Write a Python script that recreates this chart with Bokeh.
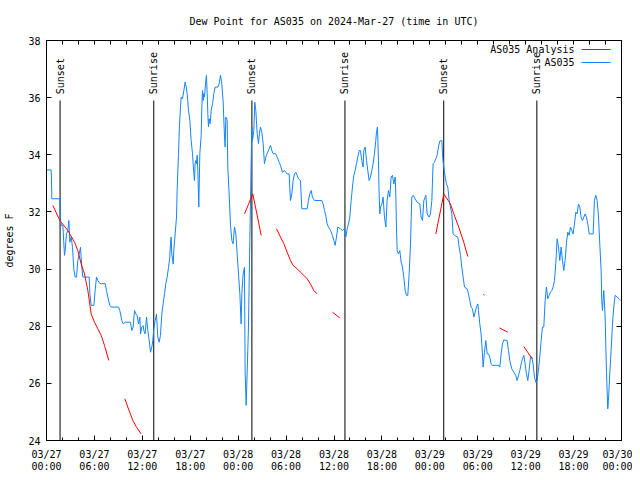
import numpy as np
import pandas as pd
from bokeh.plotting import figure
from bokeh.models import (FixedTicker, DatetimeTickFormatter, LinearAxis, Range1d,
                          Label, BoxAnnotation)
from bokeh.embed import file_html
from bokeh.resources import INLINE
from bokeh.core.properties import value

# ---------------- data ----------------
start = pd.Timestamp("2024-03-27 00:00")

obs_hours = [0.00, 0.58, 0.62, 0.67, 1.67, 1.72, 1.88, 2.05, 2.25, 2.34, 2.50, 2.67, 2.80, 2.92, 3.09,
             3.26, 3.42, 3.59, 3.76, 3.92, 4.09, 4.26, 4.42, 4.55, 5.34, 5.43, 5.59, 5.93, 6.09, 6.26,
             6.43, 6.64, 6.84, 7.35, 7.51, 7.68, 7.93, 8.10, 9.02, 9.18, 9.43, 9.60, 9.85, 10.52, 10.68,
             10.85, 11.02, 11.19, 11.35, 11.52, 11.69, 11.77, 11.94, 12.10, 12.19, 12.35, 12.52, 12.69,
             12.86, 13.02, 13.19, 13.31, 13.44, 13.61, 13.77, 13.94, 14.11, 14.27, 14.44, 14.61, 14.78,
             14.94, 15.11, 15.28, 15.44, 15.53, 15.61, 15.69, 15.86, 15.94, 16.11, 16.28, 16.36, 16.53,
             16.65, 16.78, 16.86, 17.03, 17.20, 17.36, 17.49, 17.61, 17.78, 17.95, 18.11, 18.28, 18.45,
             18.53, 18.61, 18.70, 18.78, 18.86, 18.95, 19.07, 19.20, 19.37, 19.45, 19.53, 19.62, 19.70,
             19.78, 19.95, 20.03, 20.12, 20.20, 20.28, 20.37, 20.49, 20.62, 20.79, 20.95, 21.12, 21.45,
             21.62, 21.79, 21.95, 22.12, 22.29, 22.37, 22.45, 22.62, 22.70, 22.87, 23.04, 23.21, 23.37,
             23.54, 23.71, 23.87, 24.04, 24.21, 24.37, 24.46, 24.62, 24.79, 24.87, 25.00, 25.12, 25.29,
             25.46, 25.63, 25.71, 25.79, 25.96, 26.08, 26.21, 26.38, 26.54, 26.67, 26.79, 26.96, 27.13,
             27.29, 27.46, 27.63, 27.88, 28.05, 28.21, 28.38, 28.67, 28.88, 29.13, 29.30, 29.55, 29.80,
             30.13, 30.38, 30.55, 30.72, 30.88, 31.05, 31.22, 31.39, 31.55, 31.80, 31.97, 32.64, 32.80,
             32.97, 33.14, 33.30, 33.56, 34.47, 34.64, 34.81, 34.97, 35.14, 35.31, 35.56, 35.81, 35.98,
             36.14, 36.31, 36.48, 36.81, 37.06, 37.31, 37.48, 37.65, 37.81, 37.98, 38.15, 38.31, 38.48,
             38.65, 38.81, 38.98, 39.15, 39.31, 39.48, 39.65, 39.73, 39.90, 40.07, 40.23, 40.40, 40.57,
             40.73, 40.90, 41.07, 41.15, 41.23, 41.32, 41.44, 41.57, 41.65, 41.74, 41.82, 41.99, 42.15,
             42.32, 42.49, 42.65, 42.82, 42.99, 43.15, 43.32, 43.49, 43.66, 43.74, 43.82, 43.91, 44.07,
             44.24, 44.41, 44.57, 44.74, 44.91, 45.07, 45.24, 45.41, 45.58, 45.74, 45.91, 46.16, 46.41,
             46.74, 46.91, 47.08, 47.25, 47.50, 47.66, 47.91, 48.08, 48.25, 48.41, 48.58, 48.75, 48.91,
             49.08, 49.25, 49.50, 49.62, 49.75, 49.92, 50.08, 50.25, 50.42, 50.58, 50.75, 50.92, 51.08,
             51.50, 51.67, 51.84, 52.00, 52.17, 52.34, 52.67, 52.84, 53.00, 53.17, 53.34, 53.51, 53.67,
             53.84, 54.01, 54.09, 54.26, 54.42, 54.59, 54.67, 54.84, 55.01, 55.18, 55.34, 55.51, 55.68,
             55.84, 56.59, 56.76, 56.93, 57.09, 57.26, 57.68, 57.85, 58.01, 58.26, 58.51, 58.76, 58.93,
             59.10, 59.27, 59.43, 59.60, 59.77, 59.93, 60.10, 60.27, 60.43, 60.60, 60.77, 60.93, 61.10,
             61.27, 61.44, 61.60, 61.77, 61.94, 62.10, 62.27, 62.44, 62.60, 62.77, 62.94, 63.10, 63.27,
             63.44, 63.61, 63.77, 63.94, 64.11, 64.27, 64.44, 64.61, 64.77, 64.94, 65.11, 65.28, 65.44,
             65.61, 65.78, 65.94, 66.11, 66.28, 66.44, 66.61, 66.78, 66.94, 67.11, 67.28, 67.45, 67.61,
             67.78, 67.95, 68.45, 68.61, 68.78, 68.95, 69.12, 69.28, 69.45, 69.53, 69.62, 69.70, 69.78,
             69.95, 70.03, 70.12, 70.28, 70.37, 70.53, 70.70, 70.87, 71.03, 71.20, 71.45, 71.70, 71.87]

obs_dewpt = [33.47, 33.47, 33.22, 32.46, 32.46, 31.70, 31.52, 31.52, 30.48, 30.65, 31.23, 31.35, 31.70, 30.94, 31.12,
             30.76, 30.00, 29.72, 29.72, 30.30, 30.53, 30.76, 30.06, 29.72, 29.72, 29.14, 28.73, 28.73, 29.25, 29.72,
             29.60, 29.51, 29.49, 29.49, 29.25, 29.02, 28.73, 28.67, 28.67, 28.55, 28.20, 28.08, 28.14, 28.14, 27.85,
             27.97, 28.55, 28.43, 28.37, 28.08, 28.32, 27.73, 27.97, 28.02, 27.85, 27.73, 28.32, 27.85,
             27.50, 27.09, 27.27, 27.50, 27.91, 28.20, 28.43, 27.62, 27.44, 27.68, 28.43, 28.79, 29.14,
             29.49, 29.72, 30.06, 30.41, 30.94, 31.12, 30.53, 30.18, 30.65, 31.23, 31.82, 32.75, 34.04,
             35.03, 35.67, 36.02, 35.96, 36.25, 36.55, 36.37, 36.14, 35.56, 35.21, 34.51, 34.04, 33.34,
             33.10, 33.69, 33.80, 33.69, 33.98, 33.45, 32.17, 34.04, 34.68, 35.67, 36.25, 35.90, 36.14,
             36.02, 36.60, 36.78, 36.14, 35.44, 34.98, 35.26, 35.09, 35.56, 35.79, 36.14, 36.37, 36.37,
             36.49, 36.78, 36.49, 35.85, 34.62, 34.27, 35.32, 35.21, 33.57, 32.63, 31.52, 31.00, 30.88,
             31.47, 31.23, 30.53, 29.83, 29.14, 28.08, 29.14, 29.83, 30.06, 26.45, 25.23, 26.33, 27.97,
             31.00, 33.80, 34.97, 34.50, 34.85, 35.84, 35.55, 34.74, 34.39, 34.74, 34.97, 34.79, 34.39,
             33.69, 33.92, 34.04, 34.21, 34.33, 34.15, 34.04, 34.04, 33.92, 33.74, 33.63, 33.39, 33.45,
             33.33, 33.33, 32.40, 32.63, 33.10, 33.33, 33.39, 33.28, 33.16, 33.10, 32.11, 32.11, 32.40,
             32.63, 32.75, 32.52, 32.40, 32.40, 32.28, 32.05, 31.88, 31.58, 31.47, 31.35, 31.18, 31.00,
             30.83, 31.12, 31.47, 31.41, 31.35, 31.41, 31.12, 31.41, 31.58, 31.82, 32.40, 32.87, 33.28,
             33.45, 33.69, 33.92, 34.15, 34.15, 33.80, 33.57, 34.15, 34.27, 33.80, 33.45, 33.10, 33.22,
             33.45, 33.69, 34.04, 34.27, 34.50, 34.79, 34.97, 33.80, 32.63, 31.93, 32.17, 32.28, 32.52,
             31.82, 31.47, 32.40, 32.75, 32.52, 33.22, 33.28, 32.98, 33.22, 32.63, 31.47, 30.65, 30.53,
             30.65, 30.24, 30.07, 29.72, 29.25, 29.08, 29.08, 29.83, 30.88, 32.52, 32.58, 32.46, 32.34,
             32.28, 31.82, 31.70, 32.40, 32.58, 31.93, 31.82, 31.93, 32.40, 33.69, 33.74, 33.86, 33.98,
             34.27, 34.48, 34.50, 33.86, 33.57, 33.22, 32.98, 32.87, 32.40, 32.17, 31.93, 31.23, 31.18,
             31.12, 30.77, 30.48, 30.07, 29.72, 29.37, 29.31, 29.13, 28.90, 28.67, 28.61, 28.32, 28.49,
             28.67, 28.78, 28.55, 28.08, 27.73, 27.03, 26.57, 27.09, 27.50, 27.03, 27.03, 26.92, 26.68,
             26.63, 26.63, 26.57, 27.03, 27.38, 27.52, 27.50, 27.15, 26.80, 26.51, 26.39, 26.28, 26.10,
             26.28, 26.45, 26.68, 26.86, 26.98, 26.68, 26.33, 26.10, 26.45, 26.92, 26.92, 26.68, 26.22,
             26.04, 26.10, 26.45, 26.92, 27.50, 27.97, 27.97, 28.90, 29.37, 28.96, 29.08, 29.19, 29.25,
             29.37, 29.60, 30.18, 31.06, 30.77, 30.30, 30.77, 30.30, 29.95, 30.30, 30.94, 31.29, 31.18,
             31.47, 31.35, 31.23, 31.58, 31.99, 31.93, 32.28, 32.17, 31.82, 31.70, 31.82, 31.93, 31.82,
             31.58, 31.23, 31.23, 32.40, 32.58, 32.40, 31.82, 30.88, 29.95, 28.90, 28.55, 28.96, 29.25,
             28.32, 27.38, 26.39, 25.11, 25.40, 26.33, 27.15, 28.08, 28.67, 29.08, 29.02, 28.96, 28.90]

nan = float("nan")
ana_hours = [0.79, 1.67, 2.67, 3.51, 3.92, 4.34, 4.76, 5.18, 5.59, 6.01, 6.43, 6.84, 7.26, 7.80, 8.80,
             9.81, 10.18, 10.81, 11.23, 11.85, 18.00,
             24.79, 25.83, 26.17, 26.59, 26.88, 27.80,
             28.80, 29.30, 29.72, 30.13, 30.55, 30.88, 31.39, 31.80, 32.22, 32.64, 33.05, 33.47, 33.89, 34.80,
             35.81, 36.73, 42.00,
             48.75, 49.75, 50.58, 51.00, 51.63, 52.25, 52.75, 53.80,
             54.72, 54.80, 55.80,
             56.72, 57.76, 58.80,
             59.77, 60.81]
ana_dewpt = [32.23, 31.70, 31.35, 30.94, 30.65, 30.18, 29.83, 29.25, 28.43, 28.14, 27.91, 27.68, 27.33, 26.80, nan,
             25.46, 25.17, 24.70, 24.49, 24.23, nan,
             31.93, 32.63, 32.17, 31.59, 31.18, nan,
             31.41, 31.12, 30.89, 30.59, 30.30, 30.13, 30.01, 29.89, 29.78, 29.66, 29.48, 29.25, 29.13, nan,
             28.49, 28.29, nan,
             31.23, 32.63, 32.28, 31.93, 31.46, 30.94, 30.44, nan,
             29.12, 29.08, nan,
             27.94, 27.79, nan,
             27.29, 26.86]

sun_hours = [1.70, 13.43, 25.72, 37.37, 49.74, 61.40]
sun_labels = ["Sunset", "Sunrise", "Sunset", "Sunrise", "Sunset", "Sunrise"]

y_ticks = [24, 26, 28, 30, 32, 34, 36, 38]
x_major_hours = list(range(0, 73, 6))
x_minor_hours = list(range(0, 73, 2))

title_text = "Dew Point for AS035 on 2024-Mar-27 (time in UTC)"
ylabel_text = "degrees F"
legend_names = ["AS035 Analysis", "AS035"]

# ---------------- helpers ----------------
start_ms = start.value / 1e6
H = 3600000.0
def to_ms(hours):
    return [start_ms + h * H for h in hours]

FONT = "DejaVu Sans Mono"
FS = "10px"
BLUE = "#1384ff"
RED = "#ff0000"

p = figure(frame_width=575, frame_height=400, x_axis_type="datetime",
           x_range=Range1d(start_ms, start_ms + 72 * H), y_range=Range1d(24, 38),
           output_backend="svg", toolbar_location=None,
           min_border_left=46, min_border_right=11, min_border_top=40, min_border_bottom=38)
p.background_fill_color = "white"
p.border_fill_color = "white"
p.outline_line_color = "black"
p.grid.visible = False

p.title.text = title_text
p.title.align = "center"
p.title.text_font = FONT
p.title.text_font_size = FS
p.title.text_font_style = "normal"
p.title.text_color = "black"
p.title.standoff = 27

xticker = FixedTicker(ticks=to_ms(x_major_hours), minor_ticks=to_ms(x_minor_hours))
yticker = FixedTicker(ticks=y_ticks, minor_ticks=[])

fmt = "%m/%d\n%H:%M"
p.xaxis.ticker = xticker
p.xaxis.formatter = DatetimeTickFormatter(hours=fmt, hourmin=fmt, days=fmt, months=fmt,
                                          minutes=fmt, minsec=fmt, seconds=fmt, years=fmt)
p.yaxis.ticker = yticker

for ax in (p.xaxis[0], p.yaxis[0]):
    ax.axis_line_color = "black"
    ax.major_tick_line_color = "black"
    ax.minor_tick_line_color = "black"
    ax.major_tick_in = 5
    ax.major_tick_out = 0
    ax.minor_tick_in = 3
    ax.minor_tick_out = 0
    ax.major_label_text_font = FONT
    ax.major_label_text_font_size = FS
    ax.major_label_text_color = "black"
p.xaxis.major_label_standoff = 8
p.xaxis.major_label_text_line_height = 1.15
p.yaxis.major_label_standoff = 6

p.yaxis.axis_label = ylabel_text
p.yaxis.axis_label_text_font = FONT
p.yaxis.axis_label_text_font_size = FS
p.yaxis.axis_label_text_font_style = "normal"
p.yaxis.axis_label_text_color = "black"
p.yaxis.axis_label_standoff = 10

# mirrored tick marks on the top and right edges (no labels)
def mirror_axis(ticks, length):
    a = LinearAxis(ticker=FixedTicker(ticks=[], minor_ticks=ticks))
    a.axis_line_color = "black"
    a.minor_tick_line_color = "black"
    a.minor_tick_in = length
    a.minor_tick_out = 0
    a.major_label_standoff = 0
    return a

p.add_layout(mirror_axis(to_ms(x_minor_hours), 4), "above")
p.add_layout(mirror_axis(y_ticks, 5), "right")

# sunrise / sunset markers
sun_x = to_ms(sun_hours)
p.segment(x0=sun_x, y0=24, x1=sun_x, y1=35.9, line_color="black", line_width=1)
p.text(x=sun_x, y=36.12, text=sun_labels, angle=np.pi / 2, text_align="left",
       text_baseline="middle", text_font=value(FONT), text_font_size=FS, text_color="black")

# series
p.line(to_ms(obs_hours), obs_dewpt, line_color=BLUE, line_width=1)
p.line(to_ms(ana_hours), ana_dewpt, line_color=RED, line_width=1)

# legend (gnuplot style: label then sample)
for i, (name, col) in enumerate(zip(legend_names, [RED, BLUE])):
    yy = 391 - i * 13
    p.add_layout(Label(x=528, y=yy, x_units="screen", y_units="screen", text=name,
                       text_align="right", text_baseline="middle", text_font=FONT,
                       text_font_size=FS, text_color="black"))
    p.add_layout(BoxAnnotation(left=535, right=564, bottom=yy - 0.5, top=yy + 0.5,
                               left_units="screen", right_units="screen",
                               bottom_units="screen", top_units="screen",
                               fill_color=col, fill_alpha=1, line_color=None))

open("out.html", "w").write(file_html(p, INLINE))
